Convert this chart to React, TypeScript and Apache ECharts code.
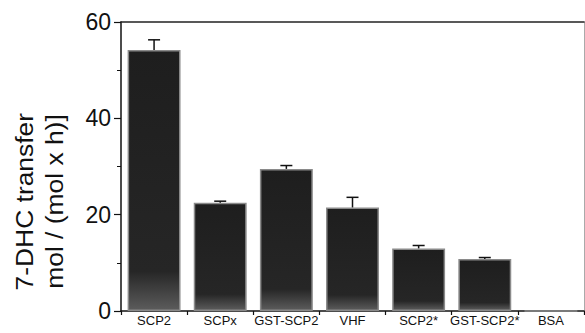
import React, { useEffect, useRef } from "react";
import * as echarts from "echarts";

const categories = ["SCP2", "SCPx", "GST-SCP2", "VHF", "SCP2*", "GST-SCP2*", "BSA"];
const values = [54.2, 22.5, 29.5, 21.5, 13.0, 10.8, 0];
const errorTops = [56.3, 22.8, 30.2, 23.6, 13.6, 11.1, 0];
const yTicks = [0, 20, 40, 60];
const yNameLines = ["7-DHC transfer", "mol / (mol x h)]"];

export default function App() {
  const ref = useRef<HTMLDivElement>(null);
  useEffect(() => {
    const chart = echarts.init(ref.current!, null, { renderer: "svg" });
    const font = "Arial, 'Liberation Sans', Helvetica, sans-serif";
    chart.setOption({
      animation: false,
      backgroundColor: "#fff",
      grid: { left: 121, right: 1, top: 22, bottom: 22, containLabel: false },
      xAxis: [
        {
          type: "category",
          data: categories,
          boundaryGap: true,
          axisLine: { onZero: false, lineStyle: { color: "#111", width: 1.5 } },
          axisTick: { show: true, alignWithLabel: false, length: 4, lineStyle: { color: "#111", width: 1.2 } },
          axisLabel: { color: "#111", fontSize: 13, fontFamily: font, margin: 3, interval: 0, hideOverlap: false },
          splitLine: { show: false },
        },
        {
          type: "category",
          position: "top",
          data: categories,
          axisLine: { show: true, onZero: false, lineStyle: { color: "#222", width: 1.5 } },
          axisTick: { show: false },
          axisLabel: { show: false },
        },
      ],
      yAxis: [
        {
          type: "value",
          min: yTicks[0],
          max: yTicks[yTicks.length - 1],
          interval: 20,
          axisLine: { show: true, onZero: false, lineStyle: { color: "#111", width: 1.5 } },
          axisTick: { show: true, length: 7, lineStyle: { color: "#111", width: 1.2 } },
          minorTick: { show: true, splitNumber: 2, length: 4, lineStyle: { color: "#111", width: 1 } },
          axisLabel: { color: "#111", fontSize: 23, fontFamily: font, margin: 10 },
          splitLine: { show: false },
        },
        {
          type: "value",
          position: "right",
          min: 0,
          max: 60,
          interval: 20,
          axisLine: { show: true, onZero: false, lineStyle: { color: "#aaa", width: 1 } },
          axisTick: { show: false },
          axisLabel: { show: false },
          splitLine: { show: false },
        },
      ],
      series: [
        {
          type: "bar",
          data: values,
          barCategoryGap: "20%",
          itemStyle: {
            color: new echarts.graphic.LinearGradient(0, 0, 0, 1, [
              { offset: 0, color: "#1e1e1e" },
              { offset: 0.85, color: "#262626" },
              { offset: 1, color: "#5c5c5c" },
            ]),
            borderColor: "#8a8a8a",
            borderWidth: 1.5,
          },
        },
        {
          type: "custom",
          data: categories.map((c, i) => [i, values[i], errorTops[i]]),
          renderItem: (params: any, api: any) => {
            const i = api.value(0);
            const lo = api.coord([i, api.value(1)]);
            const hi = api.coord([i, api.value(2)]);
            if (api.value(2) <= api.value(1)) return null;
            const half = 6;
            return {
              type: "group",
              children: [
                { type: "line", shape: { x1: lo[0], y1: lo[1], x2: hi[0], y2: hi[1] }, style: { stroke: "#111", lineWidth: 1.5 } },
                { type: "line", shape: { x1: hi[0] - half, y1: hi[1], x2: hi[0] + half, y2: hi[1] }, style: { stroke: "#111", lineWidth: 1.5 } },
              ],
            };
          },
          z: 5,
        },
      ],
      graphic: [
        {
          type: "text",
          x: 24.7,
          y: 201.7,
          rotation: Math.PI / 2,
          scaleX: 1.1,
          style: { text: yNameLines[0], font: `24px ${font}`, fill: "#111", align: "center", verticalAlign: "middle" },
        },
        {
          type: "text",
          x: 54.7,
          y: 201.5,
          rotation: Math.PI / 2,
          scaleX: 1.1,
          style: { text: yNameLines[1], font: `24px ${font}`, fill: "#111", align: "center", verticalAlign: "middle" },
        },
      ],
    });
    return () => chart.dispose();
  }, []);
  return <div ref={ref} style={{ width: 585, height: 333, position: "absolute", left: 0, top: 0 }} />;
}
